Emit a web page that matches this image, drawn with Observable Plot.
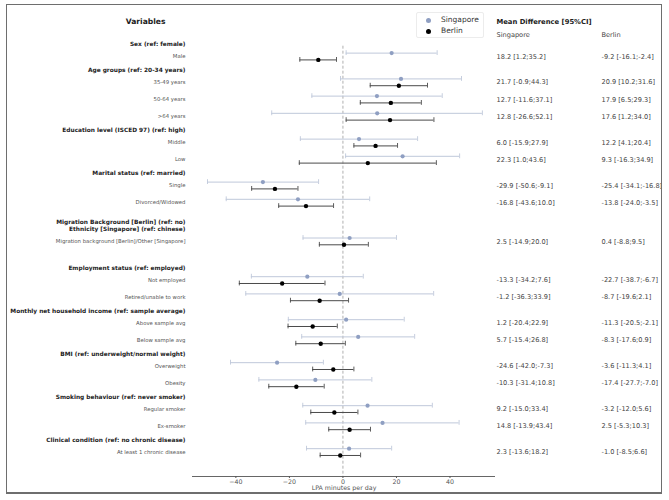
<!DOCTYPE html>
<html>
<head>
<meta charset="utf-8">
<script src="https://cdn.jsdelivr.net/npm/d3@7"></script>
<script src="https://cdn.jsdelivr.net/npm/@observablehq/plot@0.6"></script>
<style>
  body { margin: 0; background: #fff; font-family: "DejaVu Sans", sans-serif; }
  #wrap { position: relative; width: 669px; height: 500px; overflow: hidden; }
  #chart { position: absolute; left: 0; top: 0; }
  #border { position: absolute; left: 6px; top: 4px; width: 654px; height: 487px; border: 1.5px solid #6e6e6e; border-bottom-width: 2px; pointer-events: none; }
  #legend { position: absolute; left: 416px; top: 12px; width: 66px; height: 24px; border: 1px solid #ececec; border-radius: 2px; background: #fff; font-size: 7.5px; color: #333; }
  .li { position: absolute; left: 0; height: 10px; line-height: 10px; }
  .li span.d { position: absolute; left: 9px; top: 2.5px; width: 5px; height: 5px; border-radius: 50%; }
  .li span.t { position: absolute; left: 24px; top: 0; white-space: nowrap; }
</style>
</head>
<body>
<div id="wrap">
  <div id="chart"></div>
  <div id="legend">
    <div class="li" style="top:2px"><span class="d" style="background:#8f9fc2"></span><span class="t">Singapore</span></div>
    <div class="li" style="top:13px"><span class="d" style="background:#000"></span><span class="t">Berlin</span></div>
  </div>
  <div id="border"></div>
</div>
<script>
// ---- data ----
const groups = [
  "Sex (ref: female)",
  "Age groups (ref: 20-34 years)",
  "Education level (ISCED 97) (ref: high)",
  "Marital status (ref: married)",
  "Migration Background [Berlin] (ref: no)\nEthnicity [Singapore] (ref: chinese)",
  "Employment status (ref: employed)",
  "Monthly net household income (ref: sample average)",
  "BMI (ref: underweight/normal weight)",
  "Smoking behaviour (ref: never smoker)",
  "Clinical condition (ref: no chronic disease)"
];
const variables = [
  "Male", "35-49 years", "50-64 years", ">64 years", "Middle", "Low",
  "Single", "Divorced/Widowed", "Migration background [Berlin]/Other [Singapore]",
  "Not employed", "Retired/unable to work", "Above sample avg", "Below sample avg",
  "Overweight", "Obesity", "Regular smoker", "Ex-smoker", "At least 1 chronic disease"
];
const variableGroup = [0, 1, 1, 1, 2, 2, 3, 3, 4, 5, 5, 6, 6, 7, 7, 8, 8, 9];
const sgMean = [18.2, 21.7, 12.7, 12.8, 6.0, 22.3, -29.9, -16.8, 2.5, -13.3, -1.2, 1.2, 5.7, -24.6, -10.3, 9.2, 14.8, 2.3];
const sgLow  = [1.2, -0.9, -11.6, -26.6, -15.9, 1.0, -50.6, -43.6, -14.9, -34.2, -36.3, -20.4, -15.4, -42.0, -31.4, -15.0, -13.9, -13.6];
const sgHigh = [35.2, 44.3, 37.1, 52.1, 27.9, 43.6, -9.1, 10.0, 20.0, 7.6, 33.9, 22.9, 26.8, -7.3, 10.8, 33.4, 43.4, 18.2];
const beMean = [-9.2, 20.9, 17.9, 17.6, 12.2, 9.3, -25.4, -13.8, 0.4, -22.7, -8.7, -11.3, -8.3, -3.6, -17.4, -3.2, 2.5, -1.0];
const beLow  = [-16.1, 10.2, 6.5, 1.2, 4.1, -16.3, -34.1, -24.0, -8.8, -38.7, -19.6, -20.5, -17.6, -11.3, -27.7, -12.0, -5.3, -8.5];
const beHigh = [-2.4, 31.6, 29.3, 34.0, 20.4, 34.9, -16.8, -3.5, 9.5, -6.7, 2.1, -2.1, 0.9, 4.1, -7.0, 5.6, 10.3, 6.6];
const xTicks = [-40, -20, 0, 20, 40];
const xLabel = "LPA minutes per day";
const seriesNames = ["Singapore", "Berlin"];

// ---- row layout derived from the group structure ----
const nLines = groups.map(g => g.split("\n").length);
const rows = [];
let pos = 0;
variables.forEach((v, i) => {
  const g = variableGroup[i];
  if (i > 0) {
    const pg = variableGroup[i - 1];
    pos += (g === pg) ? 1 : 1.5 + 0.75 * (nLines[g] - 1) + 0.75 * (nLines[pg] - 1);
  }
  rows.push({
    label: v, pos, g,
    sgMean: sgMean[i], sgLow: sgLow[i], sgHigh: sgHigh[i],
    beMean: beMean[i], beLow: beLow[i], beHigh: beHigh[i]
  });
});
const headerRows = groups.map((label, g) => {
  const first = rows.find(r => r.g === g);
  return {label, pos: first.pos - 0.73 - 0.2 * (nLines[g] - 1)};
});
const fmt = (m, l, h) => `${m.toFixed(1)} [${l.toFixed(1)};${h.toFixed(1)}]`;
const yMin = -0.6, yMax = 24.42;
const cap = 0.14;
const off = 3.4;
const sgBar = "#bfc8da", sgDot = "#8f9fc2", beBar = "#4a4a4a", beDot = "#000";
const font = "DejaVu Sans";

const chart = Plot.plot({
  width: 669,
  height: 500,
  marginLeft: 192,
  marginRight: 174,
  marginTop: 45.7,
  marginBottom: 24,
  style: {fontFamily: font, background: "transparent", overflow: "visible"},
  x: {domain: [-56.2, 57]},
  y: {domain: [yMin, yMax], reverse: true, axis: null},
  marks: [
    Plot.ruleX([0], {stroke: "#9a9a9a", strokeWidth: 0.8, strokeDasharray: "3,2"}),
    // Singapore
    Plot.ruleY(rows, {y: "pos", x1: "sgLow", x2: "sgHigh", dy: -off, stroke: sgBar, strokeWidth: 1}),
    Plot.ruleX(rows, {x: "sgLow", y1: d => d.pos - cap, y2: d => d.pos + cap, dy: -off, stroke: sgBar, strokeWidth: 0.9}),
    Plot.ruleX(rows, {x: "sgHigh", y1: d => d.pos - cap, y2: d => d.pos + cap, dy: -off, stroke: sgBar, strokeWidth: 0.9}),
    Plot.dot(rows, {x: "sgMean", y: "pos", dy: -off, r: 2.1, fill: sgDot, stroke: "none"}),
    // Berlin
    Plot.ruleY(rows, {y: "pos", x1: "beLow", x2: "beHigh", dy: off, stroke: beBar, strokeWidth: 1}),
    Plot.ruleX(rows, {x: "beLow", y1: d => d.pos - cap, y2: d => d.pos + cap, dy: off, stroke: beBar, strokeWidth: 0.9}),
    Plot.ruleX(rows, {x: "beHigh", y1: d => d.pos - cap, y2: d => d.pos + cap, dy: off, stroke: beBar, strokeWidth: 0.9}),
    Plot.dot(rows, {x: "beMean", y: "pos", dy: off, r: 2.2, fill: beDot, stroke: "none"}),
    // x axis
    Plot.ruleY([yMax], {stroke: "#555", strokeWidth: 0.9}),
    Plot.axisX({ticks: xTicks, tickSize: 2, tickPadding: 1, fontSize: 6.3, color: "#555",
      label: xLabel, labelAnchor: "center", labelArrow: "none", labelOffset: 13.5}),
    // left labels
    Plot.text(rows, {y: "pos", text: "label", frameAnchor: "left", dx: -7, textAnchor: "end",
      fontSize: 5.35, fill: "#555"}),
    Plot.text(headerRows, {y: "pos", text: "label", frameAnchor: "left", dx: -7, textAnchor: "end",
      fontSize: 5.85, fontWeight: "bold", fill: "#222", lineHeight: 1.12}),
    // right value columns
    Plot.text(rows, {y: "pos", text: d => fmt(d.sgMean, d.sgLow, d.sgHigh), frameAnchor: "right", dx: 1,
      textAnchor: "start", fontSize: 6.6, fill: "#444"}),
    Plot.text(rows, {y: "pos", text: d => fmt(d.beMean, d.beLow, d.beHigh), frameAnchor: "right", dx: 106,
      textAnchor: "start", fontSize: 6.6, fill: "#444"}),
    // column headers
    Plot.text(["Variables"], {frameAnchor: "top-left", dx: -27, dy: -27.5, textAnchor: "end",
      fontSize: 7.6, fontWeight: "bold", fill: "#222"}),
    Plot.text(["Mean Difference [95%CI]"], {frameAnchor: "top-right", dx: 1, dy: -27.5, textAnchor: "start",
      fontSize: 6.8, fontWeight: "bold", fill: "#222"}),
    Plot.text([seriesNames[0]], {frameAnchor: "top-right", dx: 1, dy: -13.5, textAnchor: "start",
      fontSize: 6.6, fill: "#444"}),
    Plot.text([seriesNames[1]], {frameAnchor: "top-right", dx: 106, dy: -13.5, textAnchor: "start",
      fontSize: 6.6, fill: "#444"})
  ]
});
document.getElementById("chart").appendChild(chart);
</script>
</body>
</html>
